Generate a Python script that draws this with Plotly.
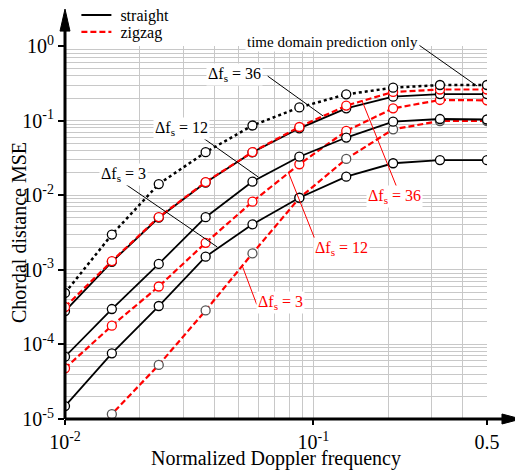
import plotly.graph_objects as go

# normalized Doppler frequency (x) for every curve
doppler = [0.01, 0.01544, 0.02385, 0.03683, 0.05686, 0.0878, 0.1356, 0.2094, 0.3233, 0.5]

# chordal distance MSE
mse_time_only = [4.89e-4, 2.97e-3, 0.0141, 0.0377, 0.0860, 0.150, 0.225, 0.276, 0.300, 0.300]
mse_straight_36 = [2.80e-4, 1.28e-3, 4.99e-3, 0.0148, 0.0376, 0.0788, 0.146, 0.209, 0.227, 0.227]
mse_zigzag_36 = [3.17e-4, 1.31e-3, 5.09e-3, 0.0150, 0.0379, 0.0821, 0.159, 0.242, 0.261, 0.261]
mse_straight_12 = [6.84e-5, 2.98e-4, 1.20e-3, 5.07e-3, 0.0152, 0.0328, 0.0593, 0.0967, 0.105, 0.1035]
mse_zigzag_12 = [4.79e-5, 1.78e-4, 5.97e-4, 2.30e-3, 8.18e-3, 0.0260, 0.0726, 0.146, 0.189, 0.187]
mse_straight_3 = [1.49e-5, 7.60e-5, 3.27e-4, 1.50e-3, 4.07e-3, 9.25e-3, 0.0177, 0.0268, 0.0296, 0.0295]
mse_zigzag_3 = [2.57e-6, 1.16e-5, 5.30e-5, 2.85e-4, 1.66e-3, 9.17e-3, 0.0306, 0.0764, 0.0988, 0.0988]

x_tick_vals = [0.01, 0.1, 0.5]
x_tick_text = ['10<sup>-2</sup>', '10<sup>-1</sup>', '0.5']
y_tick_vals = [1e-5, 1e-4, 1e-3, 1e-2, 1e-1, 1e0]
y_tick_text = ['10<sup>-5</sup>', '10<sup>-4</sup>', '10<sup>-3</sup>',
               '10<sup>-2</sup>', '10<sup>-1</sup>', '10<sup>0</sup>']

SERIF = 'Liberation Serif, Times New Roman, serif'
RED = '#ff0000'
GRID = '#c8c8c8'

fig = go.Figure()


def add_curve(y, color, dash, marker_color, width=1.8):
    fig.add_trace(go.Scatter(
        x=doppler, y=y, mode='lines+markers', showlegend=False,
        line=dict(color=color, dash=dash, width=width),
        marker=dict(symbol='circle', size=9, color='white',
                    line=dict(color=marker_color, width=1.3)),
        cliponaxis=True
    ))


add_curve(mse_zigzag_3, RED, '6px,3px', '#555555', 2.2)
add_curve(mse_straight_3, 'black', 'solid', 'black')
add_curve(mse_zigzag_12, RED, '6px,3px', RED, 2.2)
add_curve(mse_straight_12, 'black', 'solid', 'black')
add_curve(mse_straight_36, 'black', 'solid', 'black')
add_curve(mse_zigzag_36, RED, '6px,3px', RED, 2.2)
add_curve(mse_time_only, 'black', 'dot', 'black', 2.5)

# legend entries only, each in its own legend box
fig.add_trace(go.Scatter(x=[None], y=[None], mode='lines', name='\u00a0straight',
                         line=dict(color='black', width=2), legend='legend'))
fig.add_trace(go.Scatter(x=[None], y=[None], mode='lines', name='\u00a0zigzag',
                         line=dict(color=RED, width=2.2, dash='6px,3px'), legend='legend2'))

x_minor = [d * 0.01 for d in range(2, 10)] + [0.2, 0.3, 0.4]
y_minor = [d * 10 ** e for e in range(-5, 0) for d in range(2, 10)]

fig.update_xaxes(
    type='log', range=[-2, -0.30103],
    tickvals=x_tick_vals, ticktext=x_tick_text,
    ticks='outside', ticklen=5, tickwidth=2, tickcolor='black',
    showgrid=True, gridcolor=GRID, gridwidth=1,
    minor=dict(tickvals=x_minor, showgrid=True, gridcolor=GRID, gridwidth=1, ticks=''),
    zeroline=False, showline=False,
    tickfont=dict(family=SERIF, size=20, color='black'),
    title=dict(text='Normalized Doppler frequency', standoff=0,
               font=dict(family=SERIF, size=20, color='black'))
)
fig.update_yaxes(
    type='log', range=[-5, 0],
    tickvals=y_tick_vals, ticktext=y_tick_text,
    ticks='outside', ticklen=6, tickwidth=2, tickcolor='black',
    showgrid=True, gridcolor=GRID, gridwidth=1,
    minor=dict(tickvals=y_minor, showgrid=True, gridcolor=GRID, gridwidth=1, ticks=''),
    zeroline=False, showline=False,
    tickfont=dict(family=SERIF, size=20, color='black'),
    title=dict(text='Chordal distance MSE', standoff=4,
               font=dict(family=SERIF, size=20, color='black'))
)

# axis lines with arrow heads
fig.add_shape(type='line', xref='paper', yref='paper', x0=0, y0=0, x1=1.045, y1=0,
              line=dict(color='black', width=3), layer='above')
fig.add_shape(type='line', xref='paper', yref='paper', x0=0, y0=0, x1=0, y1=1.045,
              line=dict(color='black', width=3), layer='above')
fig.add_shape(type='path', xref='paper', yref='paper',
              path='M 1.0355 -0.0134 L 1.0805 0 L 1.0355 0.0134 Z',
              fillcolor='black', line=dict(color='black', width=1), layer='above')
fig.add_shape(type='path', xref='paper', yref='paper',
              path='M -0.0118 1.040 L 0 1.099 L 0.0118 1.040 Z',
              fillcolor='black', line=dict(color='black', width=1), layer='above')


def leader(x, y, ax, ay, color):
    fig.add_annotation(text='', x=x, y=y, xref='paper', yref='paper', ax=ax, ay=ay,
                       showarrow=True, arrowhead=0, arrowwidth=1, arrowcolor=color,
                       standoff=0, startstandoff=0)


def label(text, x, y, color, size=16):
    fig.add_annotation(text=text, x=x, y=y, xref='paper', yref='paper',
                       showarrow=False, bgcolor='white', borderpad=1,
                       font=dict(family=SERIF, size=size, color=color))


leader(0.9763, 0.8928, -61, -43, 'black')
leader(0.6118, 0.8123, -57, -41, 'black')
leader(0.4580, 0.6488, -75, -53, 'black')
leader(0.3609, 0.4611, -95, -65, 'black')
leader(0.7041, 0.8525, 35, 87, RED)
leader(0.5290, 0.6622, 27, 68, RED)
leader(0.4201, 0.4102, 15, 40, RED)

label('time domain prediction only', 0.6331, 1.0375, 'black', 15)
label('Δf<sub>s</sub> = 36', 0.4012, 0.9544, 'black')
label('Δf<sub>s</sub> = 12', 0.2083, 0.8097, 'black')
label('Δf<sub>s</sub> = 3', 0.0800, 0.6542, 'black')
label('Δf<sub>s</sub> = 36', 0.8485, 0.5952, RED)
label('Δf<sub>s</sub> = 12', 0.6544, 0.4558, RED)
label('Δf<sub>s</sub> = 3', 0.5101, 0.2815, RED)

legend_style = dict(xanchor='left', yanchor='middle', bgcolor='rgba(0,0,0,0)',
                    itemwidth=30, font=dict(family=SERIF, size=16, color='black'))

# the page is drawn 8px in from the top-left corner, so the figure is 8px smaller
fig.update_layout(
    width=515, height=462,
    margin=dict(l=56.5, r=36, t=38, b=51, autoexpand=False),
    plot_bgcolor='white', paper_bgcolor='white',
    font=dict(family=SERIF, color='black'),
    legend=dict(x=0.027, y=1.0831, **legend_style),
    legend2=dict(x=0.027, y=1.0375, **legend_style)
)

fig.write_html("out.html")
